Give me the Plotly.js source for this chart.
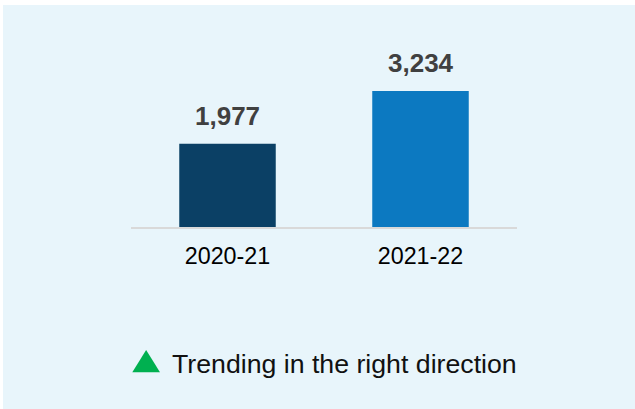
<!DOCTYPE html>
<html>
<head>
<meta charset="utf-8">
<script src="https://cdn.plot.ly/plotly-3.0.1.min.js"></script>
<style>
  html, body { margin: 0; padding: 0; background: #ffffff; width: 635px; height: 409px; overflow: hidden; }
  #chart { position: absolute; left: 3px; top: 5px; width: 632px; height: 404px; }
</style>
</head>
<body>
<div id="chart"></div>
<script>
const categories = ["2020-21", "2021-22"];
const values = [1977, 3234];
const barColors = ["#0B4065", "#0C79C1"];
const legendText = "Trending in the right direction";

const FONT = "Liberation Sans, Arial, sans-serif";

const trace = {
  type: "bar",
  x: categories,
  y: values,
  marker: { color: barColors },
  hoverinfo: "skip"
};

const labelAnns = categories.map((c, i) => ({
  x: c, y: values[i], xref: "x", yref: "y",
  text: values[i].toLocaleString("en-US"),
  showarrow: false, yanchor: "bottom", yshift: 11,
  font: { family: FONT, size: 26, color: "#404040", weight: "bold" }
}));

const layout = {
  width: 632, height: 404,
  margin: { l: 128, r: 118, t: 40, b: 182 },
  paper_bgcolor: "#E8F5FB",
  plot_bgcolor: "#E8F5FB",
  bargap: 0.5,
  showlegend: false,
  xaxis: {
    type: "category",
    showline: true, linecolor: "#D9D9D9", linewidth: 2,
    showgrid: false, zeroline: false,
    ticks: "outside", ticklen: 7, tickcolor: "rgba(0,0,0,0)",
    tickfont: { family: FONT, size: 23.3, color: "#000000" }
  },
  yaxis: {
    range: [0, 4328], visible: false, showgrid: false, zeroline: false, fixedrange: true
  },
  annotations: labelAnns.concat([{
    xref: "paper", yref: "paper", x: 0.101, y: -0.75,
    xanchor: "left", yanchor: "middle", showarrow: false,
    text: legendText,
    font: { family: FONT, size: 26.7, color: "#111111" }
  }]),
  shapes: [{
    type: "path", xref: "paper", yref: "paper",
    path: "M 0.0034 -0.798 L 0.0751 -0.798 L 0.0392 -0.676 Z",
    fillcolor: "#00B050", line: { width: 0 }
  }]
};

Plotly.newPlot("chart", [trace], layout, { staticPlot: true, displayModeBar: false });
</script>
</body>
</html>
